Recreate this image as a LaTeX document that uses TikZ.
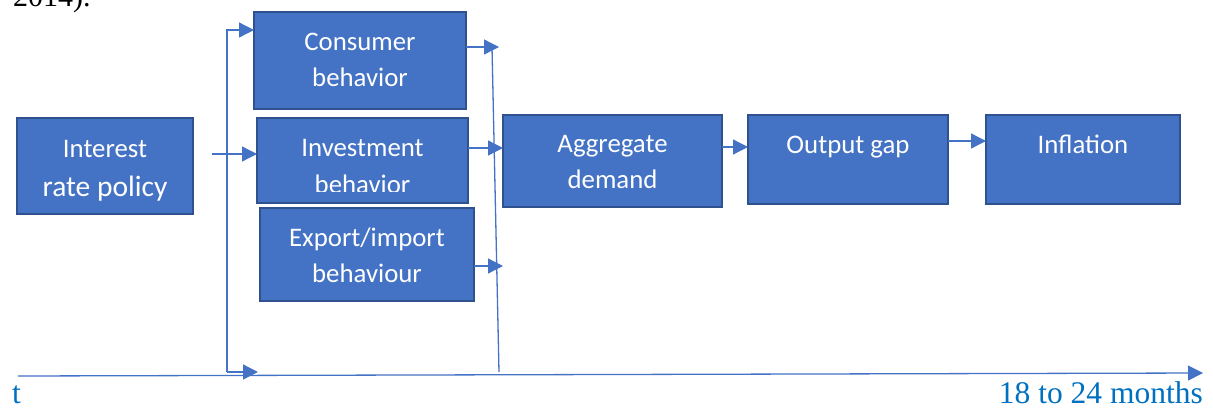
\documentclass[tikz,border=0pt]{standalone}
\usepackage{fontspec}
\setmainfont{Carlito}
\newfontfamily\tnr{Liberation Serif}
\usetikzlibrary{arrows.meta,calc}
\definecolor{boxfill}{HTML}{4472C4}
\definecolor{boxedge}{HTML}{2F528F}
\definecolor{linec}{HTML}{4472C4}
\definecolor{tblue}{HTML}{0070C0}
\tikzset{
  box/.style={draw=boxedge, fill=boxfill, line width=1.6pt, inner sep=0pt, outer sep=0pt},
  lbl/.style={text=white, font=\fontsize{26.8}{30}\selectfont, anchor=base, inner sep=0pt},
  conn/.style={draw=linec, line width=1.3pt},
  arr/.style={conn, -{Triangle[length=15pt,width=15pt]}},
  axislbl/.style={text=tblue, font=\tnr\fontsize{31.5}{34}\selectfont, inner sep=0pt, anchor=base},
}
\begin{document}
\begin{tikzpicture}[x=1pt,y=-1pt]
\useasboundingbox (0,0) rectangle (1213,410);
% clipped page text at the top
\begin{scope}
\clip (0,0) rectangle (1213,410);
\node[font=\tnr\fontsize{30}{34}\selectfont, anchor=base west, inner sep=0pt] (yr) at (13,6) {2014).};
\end{scope}
% boxes
\node[box, minimum width=176pt, minimum height=96pt] (int) at (105,166) {};
\node[box, minimum width=212pt, minimum height=97pt] (cons) at (360,60.5) {};
\node[box, minimum width=211pt, minimum height=85pt] (inv) at (362.5,160.5) {};
\node[box, minimum width=214pt, minimum height=93pt] (exp) at (367,254.5) {};
\node[box, minimum width=219pt, minimum height=92pt] (agg) at (612.5,161) {};
\node[box, minimum width=200pt, minimum height=89pt] (out) at (848,159.5) {};
\node[box, minimum width=194pt, minimum height=89pt] (inf) at (1083,159.5) {};
% texts
\node[lbl] (int-a) at (105,157) {Interest};
\node[lbl, font=\fontsize{29.5}{32}\selectfont] (int-b) at (105,196) {rate policy};
\node[lbl] (cons-a) at (360,50) {Consumer};
\node[lbl] (cons-b) at (360,86) {behavior};
\node[lbl] (inv-a) at (362.5,156) {Investment};
\begin{scope}
\clip (257,170) rectangle (468,191);
\node[lbl] (inv-b) at (362.5,193) {behavior};
\end{scope}
\node[lbl] (exp-a) at (367,246) {Export/import};
\node[lbl] (exp-b) at (367,282) {behaviour};
\node[lbl] (agg-a) at (612.5,152) {Aggregate};
\node[lbl] (agg-b) at (612.5,188) {demand};
\node[lbl] (out-a) at (848,153) {Output gap};
\node[lbl] (inf-a) at (1083,153) {Inflation};
% connector coordinates
\coordinate (c1) at (212,154);
\coordinate (bt) at (227,30);
\coordinate (bb) at (227,372);
\coordinate (ax1) at (258,372);
\coordinate (sA) at (499,47);
\coordinate (sB) at (503,148);
\coordinate (sC) at (503,266);
\coordinate (vt) at (492,47);
\coordinate (vb) at (499,372);
\coordinate (ag) at (0,147);
\coordinate (og) at (0,141);
\coordinate (ax0) at (18,376);
\coordinate (axE) at (1203,373);
% connectors
\draw[arr] (c1) -- (inv.west |- c1);
\draw[arr] (bb) -- (bt) -- (cons.west |- bt);
\draw[arr] (bb) -- (ax1);
\draw[arr] (cons.east |- sA) -- (sA);
\draw[arr] (inv.east |- sB) -- (agg.west |- sB);
\draw[arr] (exp.east |- sC) -- (sC);
\draw[conn] (vt) -- (vb);
\draw[arr] (agg.east |- ag) -- (out.west |- ag);
\draw[arr] (out.east |- og) -- (inf.west |- og);
\draw[arr] (ax0) -- (axE);
% axis labels
\node[axislbl, anchor=base west] (tl) at (12,403) {t};
\node[axislbl, anchor=base east] (ml) at (1203,403) {18 to 24 months};
\end{tikzpicture}
\end{document}
